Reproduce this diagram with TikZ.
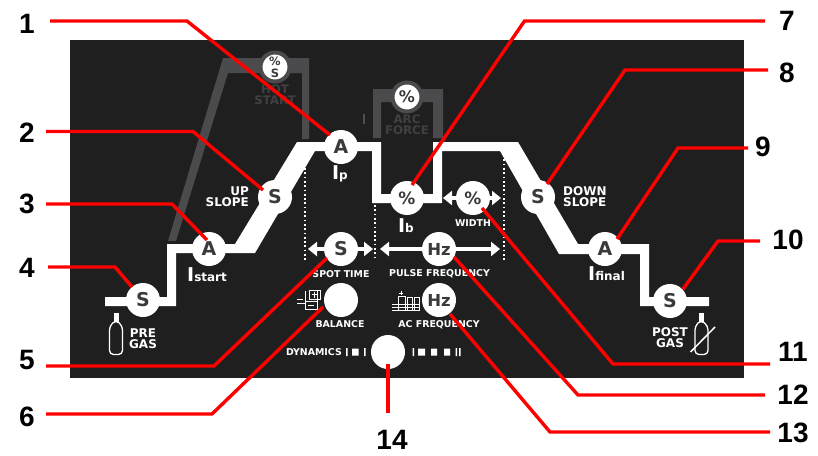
\documentclass[tikz,border=0pt]{standalone}
\usepackage{fontspec}
\setmainfont{DejaVu Sans}
\newfontfamily\numf{Liberation Sans}
\usetikzlibrary{calc,arrows.meta}
\definecolor{panel}{HTML}{1F1F1F}
\definecolor{gbar}{HTML}{4B4B4D}
\definecolor{gtxt}{HTML}{404041}
\definecolor{ink}{HTML}{3A3A3C}
\definecolor{redl}{HTML}{FF0000}
\tikzset{
  knob/.style={circle,fill=white,minimum size=34pt,inner sep=0pt,text=ink,font=\bfseries\fontsize{19}{19}\selectfont},
  hzknob/.style={knob,font=\bfseries\fontsize{16.5}{16.5}\selectfont},
  pctknob/.style={knob,font=\bfseries\fontsize{17}{17}\selectfont},
  smallknob/.style={circle,fill=white,draw=gbar,line width=4pt,minimum size=29pt,inner sep=0pt,text=ink,font=\bfseries\fontsize{16}{16}\selectfont},
  lab/.style={text=white,inner sep=0pt,font=\bfseries\fontsize{9.4}{10}\selectfont},
  biglab/.style={text=white,inner sep=0pt,align=center,font=\bfseries\fontsize{12}{11}\selectfont},
  glab/.style={text=gtxt,inner sep=0pt,align=center,font=\bfseries\fontsize{11.8}{10.6}\selectfont},
  num/.style={text=black,inner sep=0pt,font=\numf\bfseries\fontsize{28}{28}\selectfont},
  conn/.style={draw=redl,line width=3.4pt,line join=miter},
  dots/.style={draw=white,line width=1.7pt,dash pattern=on 1.7pt off 2.6pt},
  dbl/.style={draw=white,line width=4pt,{Triangle[length=9pt,width=14pt]}-{Triangle[length=9pt,width=14pt]}},
  icon/.style={draw=white,line width=0.9pt},
  bigI/.style={text=white,inner sep=0pt,font=\bfseries}
}
\newcommand{\curlab}[1]{{\fontsize{19}{19}\selectfont I}{\fontsize{12}{12}\selectfont #1}}
\begin{document}
\begin{tikzpicture}[x=1pt,y=-1pt]
\useasboundingbox (0,0) rectangle (818,455);
\fill[white] (0,0) rectangle (818,455);
\fill[panel] (70,40) rectangle (744,378);

% grey hot start / arc force
\fill[gbar] (168,241) -- (223,58) -- (309,58) -- (309,139) -- (302,139) -- (302,73) -- (228,73) -- (176,241) -- cycle;
\fill[gbar] (373,138) -- (373,89) -- (443,89) -- (443,138) -- (433,138) -- (433,102) -- (381,102) -- (381,138) -- cycle;
\fill[black!60!yellow!35!panel] (362.5,114) rectangle (364.5,124);
\node[smallknob,align=center,font=\bfseries\fontsize{11.5}{12}\selectfont] (hot) at (275,67) {\%\\S};
\node[smallknob] (arc) at (407,97) {\%};
\node[glab] (hotl) at (275,95) {HOT\\START};
\node[glab] (arcl) at (407,125) {ARC\\FORCE};

% white waveform
\fill[white] (105,297) -- (167,297) -- (167,244) -- (235,244) -- (297,142) -- (381,142) -- (381,194) -- (433,194) -- (433,142) -- (518,142) -- (578,244) -- (649,244) -- (649,297) -- (709,297) -- (709,306) -- (640,306) -- (640,254) -- (559,254) -- (500,151) -- (442,151) -- (442,203) -- (372,203) -- (372,151) -- (315,151) -- (255,253) -- (176,253) -- (176,306) -- (105,306) -- cycle;

% dotted lines
\coordinate (d1a) at (305,168); \coordinate (d1b) at (305,260);
\coordinate (d2a) at (375,205); \coordinate (d2b) at (375,260);
\coordinate (d3a) at (504,155); \coordinate (d3b) at (504,260);
\draw[dots] (d1a) -- (d1b);
\draw[dots] (d2a) -- (d2b);
\draw[dots] (d3a) -- (d3b);

% double arrows
\coordinate (a1l) at (308,249); \coordinate (a1r) at (373,249);
\coordinate (a2l) at (380,249); \coordinate (a2r) at (500,249);
\coordinate (a3l) at (443,198); \coordinate (a3r) at (501,198);
\draw[dbl] (a1l) -- (a1r);
\draw[dbl] (a2l) -- (a2r);
\draw[dbl] (a3l) -- (a3r);

% knobs
\node[knob] (pre) at (143,300) {S};
\node[knob] (ist) at (209,249) {A};
\node[knob] (up) at (275,197) {S};
\node[knob] (ip) at (341,147) {A};
\node[pctknob] (ib) at (407,198) {\%};
\node[pctknob] (wid) at (473,198) {\%};
\node[knob] (down) at (538,197) {S};
\node[knob] (ifi) at (605,249) {A};
\node[knob] (post) at (670,301) {S};
\node[knob] (spot) at (341,249) {S};
\node[hzknob] (pulse) at (439,249) {Hz};
\node[knob] (bal) at (341,300) {};
\node[hzknob] (acf) at (439,300) {Hz};
\node[knob] (dyn) at (388,352) {};

% labels
\node[biglab,align=right,anchor=east] (upl) at (249,196.5) {UP\\SLOPE};
\node[biglab,align=left,anchor=west] (dnl) at (563,196.5) {DOWN\\SLOPE};
\node[biglab] (prel) at (143,339) {PRE\\GAS};
\node[biglab] (postl) at (670,338) {POST\\GAS};
\node[lab] (spotl) at (341,274) {SPOT TIME};
\node[lab] (pulsel) at (439.5,274) {PULSE FREQUENCY};
\node[lab] (ball) at (340,324) {BALANCE};
\node[lab] (acl) at (439,325) {AC FREQUENCY};
\node[lab] (widl) at (473,223) {WIDTH};
\node[lab,anchor=east] (dynl) at (342,352) {DYNAMICS};
\node[bigI,anchor=base west] (cst) at (187,281) {\curlab{start}};
\node[bigI] (cip) at (340,174) {\curlab{p}};
\node[bigI] (cib) at (406,226) {\curlab{b}};
\node[bigI,anchor=base west] (cfi) at (588,280) {\curlab{final}};

% dynamics scale
\fill[white] (346,348) rectangle (347.5,356) (352,348.5) rectangle (358.5,355.5) (364,348) rectangle (365.5,356);
\fill[white] (412.5,348) rectangle (414,356) (418,348.5) rectangle (425,355.5) (431,348.5) rectangle (437,355.5) (444,348.5) rectangle (450,355.5) (455.5,348) rectangle (457,356) (459,348) rectangle (460.5,356);

% bottles
\fill[white] (113.5,313) rectangle (118.5,322);
\draw[white,line width=1.3pt,rounded corners=4pt] (109.5,354.5) -- (109.5,326) -- (116,320) -- (122.5,326) -- (122.5,354.5) -- cycle;
\fill[white] (698.5,313) rectangle (703.5,322);
\draw[white,line width=1.3pt,rounded corners=4pt] (695,354.5) -- (695,326) -- (701,320) -- (708,326) -- (708,354.5) -- cycle;
\draw[white,line width=1.5pt] (690.5,352) -- (715,327);

% balance icon
\draw[icon] (297,299) -- (303,299) (305,291) -- (305,309) -- (317,309) -- (317,291) (305,301) -- (317,301) (297,303) -- (305,303) (308,305) -- (314,305);
\draw[icon] (309,290) rectangle (320,299) (314.5,291.5) -- (314.5,297.5) (312,294.5) -- (317,294.5);
% ac frequency icon
\draw[icon] (392,304) -- (420,304) (392,307) -- (420,307) (392,310) -- (420,310);
\draw[icon] (398,310) -- (398,296) -- (405,296) -- (405,310) (407,310) -- (407,297) -- (412,297) -- (412,310) (414,310) -- (414,297) -- (419,297) -- (419,310);
\draw[icon] (401,291) -- (401,295) (399,293) -- (403,293);

% numbers
\node[num] (n1) at (27,24) {1};
\node[num] (n2) at (27,133) {2};
\node[num] (n3) at (27,204) {3};
\node[num] (n4) at (27,268) {4};
\node[num] (n5) at (27,360) {5};
\node[num] (n6) at (27,417) {6};
\node[num] (n7) at (787,21) {7};
\node[num] (n8) at (787,73) {8};
\node[num] (n9) at (763,147) {9};
\node[num] (n10) at (788,240) {10};
\node[num] (n11) at (793,352) {11};
\node[num] (n12) at (793,395) {12};
\node[num] (n13) at (793,433) {13};
\node[num] (n14) at (392,440) {14};

% connectors
\coordinate (s1) at (50,21); \coordinate (s2) at (46,131.5); \coordinate (s3) at (46,204);
\coordinate (s4) at (48,267); \coordinate (s5) at (46,366); \coordinate (s6) at (46,414);
\coordinate (s7) at (765,21); \coordinate (s8) at (768,70); \coordinate (s9) at (748,148);
\coordinate (s10) at (760,241); \coordinate (s11) at (770,364); \coordinate (s12) at (765,395);
\coordinate (s13) at (770,432); \coordinate (s14) at (388,413);
\draw[conn] (s1) -- (187,21) -- ($(ip)+(-11,-12)$);
\draw[conn] (s2) -- (193,131.5) -- ($(up)+(-12,-7)$);
\draw[conn] (s3) -- (172,204) -- ($(ist)+(-2,-9)$);
\draw[conn] (s4) -- (115,267) -- ($(pre)+(-11,-13)$);
\draw[conn] (s5) -- (214,366) -- ($(spot)+(-14,9)$);
\draw[conn] (s6) -- (212,414) -- ($(bal)+(-18,7)$);
\draw[conn] (s7) -- (524.5,21) -- ($(ib)+(5,-13)$);
\draw[conn] (s8) -- (625,70) -- ($(down)+(9,-13)$);
\draw[conn] (s9) -- (678,148) -- ($(ifi)+(12,-10)$);
\draw[conn] (s10) -- (718,241) -- ($(post)+(13,-12)$);
\draw[conn] (s11) -- (613,364) -- ($(wid)+(9,10)$);
\draw[conn] (s12) -- (578,395) -- ($(pulse)+(15,8)$);
\draw[conn] (s13) -- (550,432) -- ($(acf)+(11,14)$);
\draw[conn] (s14) -- ($(dyn)+(0,12)$);
\end{tikzpicture}
\end{document}
